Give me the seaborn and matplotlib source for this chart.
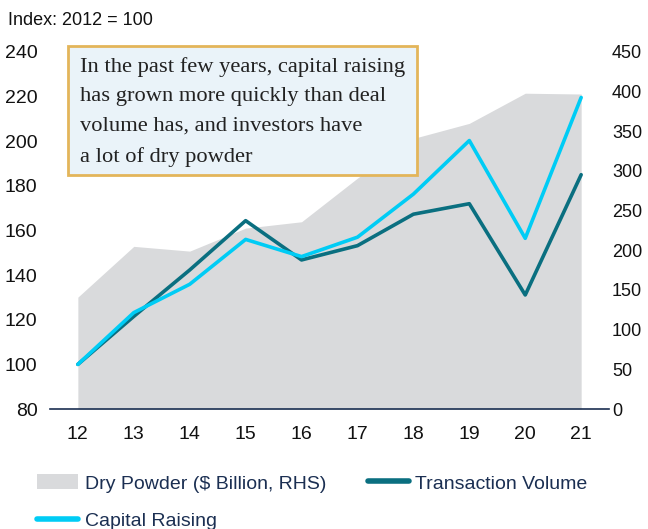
import matplotlib
matplotlib.use("Agg")
import matplotlib.pyplot as plt
import seaborn as sns
import pandas as pd
from matplotlib.patches import Patch, Rectangle
from matplotlib.lines import Line2D

years = [12, 13, 14, 15, 16, 17, 18, 19, 20, 21]
dry_powder = [141, 205, 199, 228, 236, 291, 341, 360, 398, 397]
transaction_volume = [100, 121.5, 142.3, 164.4, 146.8, 153.2, 167.3, 172, 131.1, 185]
capital_raising = [100, 123.2, 135.9, 156, 148.3, 157, 176.3, 200.3, 156.5, 219.6]
left_ticks = [80, 100, 120, 140, 160, 180, 200, 220, 240]
right_ticks = [0, 50, 100, 150, 200, 250, 300, 350, 400, 450]

df = pd.DataFrame({"year": years, "dry": dry_powder,
                   "tv": transaction_volume, "cr": capital_raising})

sns.set_style("white")
plt.rcParams['font.family'] = ['Liberation Sans', 'DejaVu Sans']

NAVY = "#1B2F52"
TEAL = "#0A6F80"
CYAN = "#00CCF5"
GRAY = "#D9DADC"

fig = plt.figure(figsize=(6.48, 5.29), dpi=100)
ax = fig.add_axes([0.077, 0.2268, 0.863, 0.675])
ax2 = ax.twinx()

ax2.fill_between(df["year"], 0, df["dry"], color=GRAY, lw=0)
sns.lineplot(data=df, x="year", y="tv", ax=ax, color=TEAL, lw=2.6)
sns.lineplot(data=df, x="year", y="cr", ax=ax, color=CYAN, lw=2.6)

ax.set_zorder(ax2.get_zorder() + 1)
ax.patch.set_visible(False)

ax.set_xlim(11.5, 21.5)
ax.set_ylim(80, 240)
ax2.set_ylim(0, 450)
ax.set_yticks(left_ticks)
ax2.set_yticks(right_ticks)
ax.set_xticks(years)
ax.set_xticks([y + 0.5 for y in [11] + years], minor=True)
ax.set_xlabel("")
ax.set_ylabel("")
ax2.set_ylabel("")

for a in (ax, ax2):
    for s in a.spines.values():
        s.set_visible(False)
ax.spines["bottom"].set_visible(True)
ax.spines["bottom"].set_color(NAVY)
ax.spines["bottom"].set_linewidth(1.2)

ax.tick_params(axis="x", which="major", length=0, labelsize=14, labelcolor="#111111", pad=12)
ax.tick_params(axis="x", which="minor", length=5, width=1.2, color=NAVY, direction="out")
ax.tick_params(axis="y", length=0, labelsize=14, labelcolor="#111111", pad=9)
ax2.tick_params(axis="y", length=0, labelsize=13, labelcolor="#111111", pad=2)

fig.text(0.012, 0.962, "Index: 2012 = 100", fontsize=13, color="#111111", va="center", ha="left")

# annotation box
fig.patches.append(Rectangle((68 / 648, 1 - 175 / 529), (417 - 68) / 648, (175 - 46) / 529,
                             transform=fig.transFigure, facecolor="#EAF3F9",
                             edgecolor="#E3B55A", lw=2, zorder=5))
fig.text(80 / 648, 1 - 57 / 529,
         "In the past few years, capital raising\nhas grown more quickly than deal\nvolume has, and investors have\na lot of dry powder",
         fontsize=16.2, family=["Liberation Serif", "DejaVu Serif"], color="#222222",
         va="top", ha="left", linespacing=1.74, zorder=6)

handles = [Patch(facecolor=GRAY, edgecolor="none", label="Dry Powder ($ Billion, RHS)"),
           Line2D([0], [0], color=CYAN, lw=4, label="Capital Raising"),
           Line2D([0], [0], color=TEAL, lw=4, label="Transaction Volume")]
leg = fig.legend(handles=handles, loc="upper left", bbox_to_anchor=(0.045, 0.118),
                 ncol=2, frameon=False, fontsize=14, handlelength=2.1, handleheight=0.8,
                 handletextpad=0.35, columnspacing=2.15, labelspacing=1.0, borderaxespad=0)
for t in leg.get_texts():
    t.set_color(NAVY)

fig.savefig("out.png", dpi=100)
